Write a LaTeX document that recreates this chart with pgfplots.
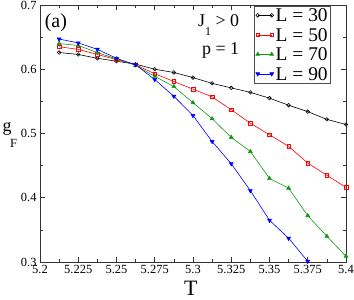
\documentclass[border=0pt]{standalone}
\usepackage{pgfplots}
\pgfplotsset{compat=1.18}
\usepackage{fontspec}
\setmainfont{Liberation Serif}
\definecolor{cR}{RGB}{255,0,0}
\definecolor{cG}{RGB}{20,150,20}
\definecolor{cB}{RGB}{0,0,255}
\pgfplotstableread{
T L30 L50 L70
5.2125 0.626 0.635 0.640
5.2250 0.623 0.631 0.637
5.2375 0.617 0.623 0.626
5.2500 0.6125 0.615 0.616
5.2625 0.608 0.607 0.606
5.2750 0.600 0.593 0.589
5.2875 0.595 0.581 0.573
5.3000 0.587 0.569 0.548
5.3125 0.578 0.557 0.523
5.3250 0.571 0.537 0.494
5.3375 0.564 0.516 0.472
5.3500 0.555 0.498 0.430
5.3625 0.544 0.480 0.415
5.3750 0.534 0.454 0.372
5.3875 0.522 0.435 0.340
5.4000 0.514 0.416 0.309
}\dataA
\pgfplotstableread{
T L90
5.2125 0.647
5.2250 0.641
5.2375 0.631
5.2500 0.617
5.2625 0.607
5.2750 0.584
5.2875 0.558
5.3000 0.528
5.3125 0.4875
5.3250 0.453
5.3375 0.411
5.3500 0.365
5.3625 0.337
5.3750 0.301
}\dataB
\begin{document}
\begin{tikzpicture}
\begin{axis}[
  scale only axis, width=306bp, height=257bp,
  xmin=5.2, xmax=5.4, ymin=0.3, ymax=0.7,
  xtick={5.2,5.225,5.25,5.275,5.3,5.325,5.35,5.375,5.4},
  xticklabels={5.2,5.225,5.25,5.275,5.3,5.325,5.35,5.375,5.4},
  ytick={0.3,0.4,0.5,0.6,0.7},
  yticklabels={0.3,0.4,0.5,0.6,0.7},
  minor x tick num=1, minor y tick num=1,
  tick align=inside,
  major tick length=5bp, minor tick length=3bp,
  axis line style={black!80, line width=0.8pt},
  tick style={black!80, line width=0.6pt},
  ticklabel style={font=\fontsize{12.5}{12.5}\selectfont},
  clip=false,
  legend style={at={(0.951,0.998)}, anchor=north east,
    font=\fontsize{19.5}{19.5}\selectfont, draw=black!70, line width=0.6pt,
    inner sep=1bp, row sep=2.5bp,
    nodes={inner sep=2bp, text height=13bp, text depth=0bp},
    cells={anchor=west}},
  legend image code/.code={\draw[#1] plot coordinates {(0bp,0bp) (14bp,0bp)};},
]
\addplot[black, line width=0.6pt, mark=o, mark size=1.8bp, mark options={line width=0.6pt}] table[x=T,y=L30] {\dataA};
\addlegendentry{L = 30}
\addplot[cR, line width=0.6pt, mark=square, mark size=1.8bp, mark options={line width=0.6pt}] table[x=T,y=L50] {\dataA};
\addlegendentry{L = 50}
\addplot[cG, line width=0.6pt, mark=triangle*, mark size=2.3bp, mark options={line width=0.5pt}] table[x=T,y=L70] {\dataA};
\addlegendentry{L = 70}
\addplot[cB, line width=0.6pt, mark=triangle*, mark size=2.3bp, mark options={rotate=180, line width=0.5pt}] table[x=T,y=L90] {\dataB};
\addlegendentry{L = 90}
\node[font=\fontsize{20}{20}\selectfont, anchor=base] at (rel axis cs:0.052,0.914) {(a)};
\node[font=\fontsize{18}{18}\selectfont, anchor=base west, inner sep=0pt] at (rel axis cs:0.516,0.9156) {J\raisebox{-9bp}{\fontsize{12}{12}\selectfont 1} > 0};
\node[font=\fontsize{18}{18}\selectfont, anchor=base west, inner sep=0pt] at (rel axis cs:0.529,0.809) {p = 1};
\node[font=\fontsize{18}{18}\selectfont, anchor=base west, inner sep=0pt] at (rel axis cs:0,0.5097) [xshift=-37.5bp] {g};
\node[font=\fontsize{12.5}{12.5}\selectfont, anchor=base west, inner sep=0pt] at (rel axis cs:0,0.4436) [xshift=-30bp] {F};
\node[font=\fontsize{22}{22}\selectfont, anchor=base, inner sep=0pt] at (rel axis cs:0.493,0) [yshift=-33bp] {T};
\end{axis}
\pgfresetboundingbox
\path[use as bounding box] ([shift={(-40bp,-38bp)}]current axis.south west) rectangle ([shift={(8bp,5bp)}]current axis.north east);
\end{tikzpicture}
\end{document}
